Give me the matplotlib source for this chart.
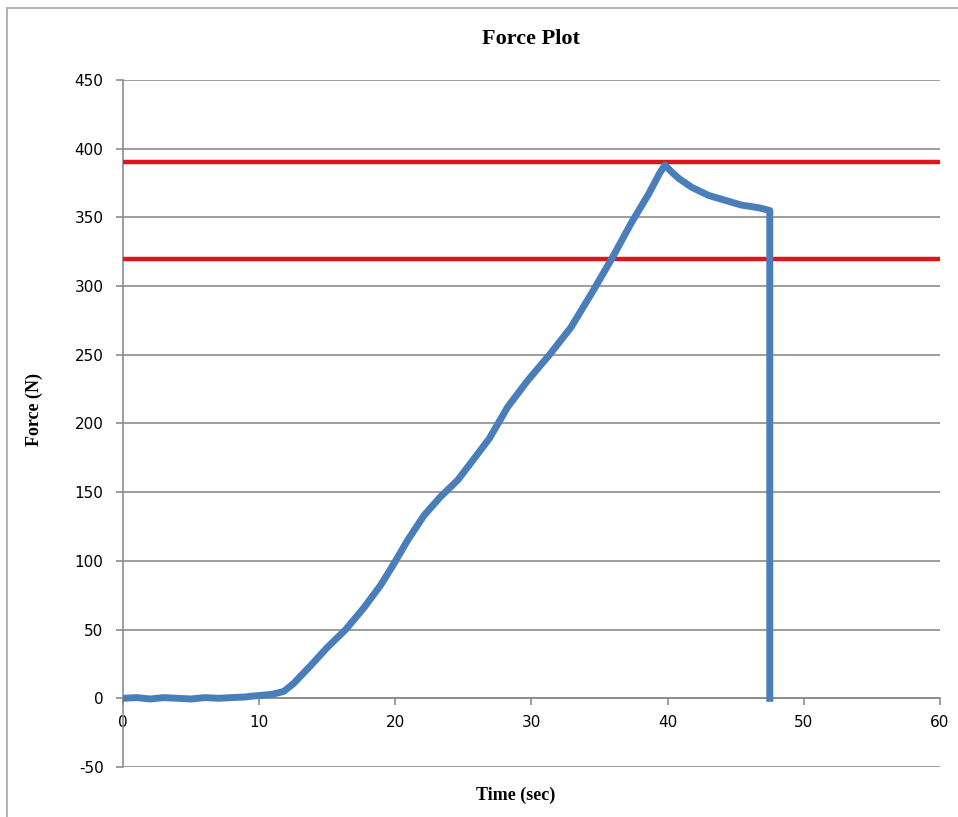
import matplotlib.pyplot as plt
from matplotlib.patches import Rectangle

plt.rcParams["axes.unicode_minus"] = False

# force trace
time_s = [0, 1, 2, 3, 4, 5, 6, 7, 8, 9, 9.4, 10, 11, 11.8, 12.5, 13.8, 15.0,
          16.35, 17.7, 18.9, 19.9, 20.9, 22.1, 23.3, 24.6, 25.6, 26.9, 28.25,
          29.7, 31.4, 32.9, 34.4, 35.9, 37.3, 38.6, 39.4, 39.8, 40.3, 40.8, 41.75,
          43.0, 44.2, 45.4, 46.7, 47.5, 47.5]
force_n = [0, 0.5, -0.5, 0.5, 0, -0.5, 0.5, 0, 0.5, 1, 1.5, 2, 3, 5, 10.5, 24, 37,
           50, 66, 82, 98, 115, 133, 146.5, 159, 172, 189, 212,
           231, 251, 270, 294.5, 320, 345.5, 367, 382, 388, 383, 378.5, 372,
           366, 362.5, 359, 357, 355, 0]
limits = [390, 320]

fig = plt.figure(figsize=(9.58, 8.17), dpi=100)
ax = fig.add_axes([0.1284, 0.0612, 0.8528, 0.8409])

fig.patches.append(Rectangle((0.007, -0.05), 1.1, 1.05 - 8 / 817, transform=fig.transFigure,
                             fill=False, edgecolor="#a6a6a6", linewidth=1.2))

for lim in limits:
    ax.axhline(lim, color="#e0141c", linewidth=3.2, zorder=3)
ax.plot(time_s, force_n, color="#4a7ebb", linewidth=5, zorder=4, solid_joinstyle="round")

ax.set_xlim(0, 60)
ax.set_ylim(-50, 450)
ax.set_xticks(range(0, 61, 10))
ax.set_yticks(range(-50, 451, 50))
ax.grid(axis="y", color="#8c8c8c", linewidth=1.2)
ax.set_axisbelow(True)

for s in ["top", "right"]:
    ax.spines[s].set_visible(False)
ax.spines["bottom"].set_position(("data", 0))
ax.spines["bottom"].set_color("#8c8c8c")
ax.spines["left"].set_color("#8c8c8c")
ax.spines["bottom"].set_linewidth(1.2)
ax.spines["left"].set_linewidth(1.2)
ax.tick_params(axis="y", length=5, color="#8c8c8c", width=1.2, labelsize=11, pad=9)
ax.tick_params(axis="x", length=5, color="#8c8c8c", width=1.2, labelsize=11, pad=7)

ax.set_title("Force Plot", family="Liberation Serif", fontweight="bold", fontsize=16, pad=26)
ax.set_xlabel("Time (sec)", family="Liberation Serif", fontweight="bold", fontsize=13)
ax.set_ylabel("Force (N)", family="Liberation Serif", fontweight="bold", fontsize=13)
ax.xaxis.set_label_coords(0.48, -0.028)
ax.yaxis.set_label_coords(-0.098, 0.52)

fig.savefig("out.png", dpi=100)
